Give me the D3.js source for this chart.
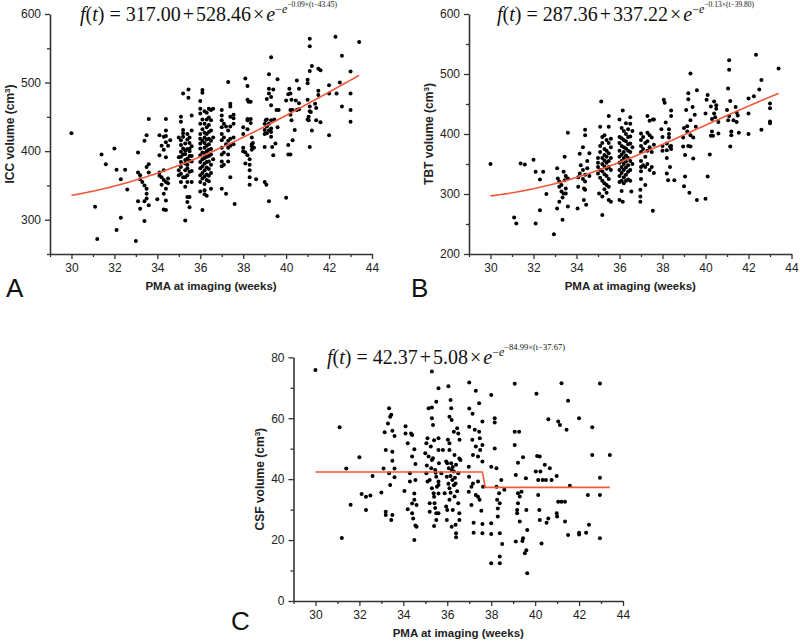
<!DOCTYPE html>
<html><head><meta charset="utf-8">
<script src="https://cdn.jsdelivr.net/npm/d3@7"></script>
<style>body{margin:0;background:#fff}</style>
</head><body>
<svg id="chart" width="800" height="643"></svg>
<script>
// ---------- data ----------
const iccData = [
[30,426],[31.1,319],[31.2,272],[31.4,395],[31.6,381],[32,404],[32.1,373],[32.1,285],[32.3,359],[32.3,303],[32.5,373],[32.6,344],[33,269],[33.1,398],[33.1,369],[33.1,327],[33.2,316],[33.2,365],[33.2,359],[33.3,355],[33.4,415],[33.4,350],[33.4,298],[33.4,327],[33.5,423],[33.5,377],[33.5,345],[33.5,331],[33.6,447],[33.6,381],[33.6,369],[33.6,321],[33.5,338],
[34,330],[34.1,423],[34.1,394],[34.1,364],[34.1,369],[34.2,408],[34.2,351],[34.3,421],[34.3,402],[34.3,372],[34.3,358],[34.3,338],[34.3,315],[34.4,447],[34.4,430],[34.4,422],[34.4,413],[34.4,391],[34.4,355],[34.4,345],[34.4,328],[34.4,314],[34.5,353],[34.5,408],[34.6,416],[34.5,360],[34.2,362],
[35,391],[35,372],[35,420],[35,365],[35.1,443],[35.1,416],[35.1,409],[35.1,399],[35.1,392],[35.1,377],[35.1,367],[35.1,355],[35.1,450],[35.1,384],[35.2,484],[35.2,426],[35.2,421],[35.2,431],[35.2,404],[35.2,395],[35.2,362],[35.3,387],[35.3,411],[35.3,348],[35.3,299],[35.3,382],[35.3,372],[35.3,362],[35.3,401],[35.3,396],[35.4,333],[35.4,326],[35.4,355],[35.4,365],[35.4,375],[35.4,389],[35.4,403],[35.4,417],[35.4,425],[35.4,380],[35.45,490],[35.45,478],[35.5,318],[35.5,403],[35.5,393],[35.5,386],[35.5,412],[35.5,420],[35.5,333],[35.5,370],[35.5,400],[35.6,452],[35.6,393],[35.6,407],[35.6,371],[35.6,355],[35.6,430],[35.6,385],
[36,473],[36,462],[36,455],[36,440],[36,425],[36,418],[36,411],[36,404],[36,394],[36,384],[36,375],[36,365],[36,355],[36,341],[36.1,489],[36.1,485],[36.1,314],[36.1,446],[36.1,432],[36.1,415],[36.1,398],[36.1,388],[36.1,378],[36.1,368],[36.1,360],[36.2,337],[36.2,343],[36.2,458],[36.2,440],[36.2,427],[36.2,420],[36.2,412],[36.2,405],[36.2,397],[36.2,390],[36.2,382],[36.2,372],[36.2,363],[36.2,352],[36.3,456],[36.3,446],[36.3,435],[36.3,425],[36.3,417],[36.3,408],[36.3,400],[36.3,392],[36.3,384],[36.3,376],[36.3,366],[36.3,358],[36.3,335],[36.4,462],[36.4,449],[36.4,438],[36.4,428],[36.4,418],[36.4,410],[36.4,402],[36.4,393],[36.4,385],[36.4,374],[36.4,364],[36.4,356],[36.5,445],[36.5,430],[36.5,415],[36.5,403],[36.5,395],[36.5,380],[36.5,368],[36.5,345],[36.5,460],[36.6,462],[36.6,420],[36.6,388],
[37,460],[37,452],[37,445],[37,435],[37,425],[37,416],[37,405],[37,395],[37,385],[37,378],[37,345],[37.1,440],[37.1,420],[37.1,398],[37.1,380],[37.2,338],[37.2,436],[37.2,410],[37.3,501],[37.3,430],[37.3,415],[37.3,405],[37.3,395],[37.3,385],[37.4,465],[37.4,469],[37.4,450],[37.4,436],[37.4,418],[37.4,408],[37.4,362],[37.55,453],[37.55,448],[37.55,420],[37.55,410],[37.55,440],[37.6,323],
[38,435],[38,425],[38,405],[38,400],[38.1,506],[38.1,382],[38.1,398],[38.2,495],[38.2,475],[38.25,472],[38.2,447],[38.2,445],[38.2,432],[38.2,394],[38.3,388],[38.3,380],[38.3,372],[38.3,351],[38.3,362],[38.35,472],[38.35,447],[38.35,441],[38.4,410],[38.4,402],[38.4,420],[38.4,407],[38.45,412],[38.5,405],[38.6,359],
[39,431],[39,406],[39,355],[39.05,445],[39.08,351],[39,440],[39,425],[39.1,476],[39.1,426],[39.1,436],[39.1,446],[39.2,512],[39.2,491],[39.2,484],[39.2,327],[39.2,440],[39.2,430],[39.3,537],[39.3,479],[39.3,467],[39.3,445],[39.3,433],[39.3,428],[39.3,421],[39.35,406],[39.4,490],[39.4,394],[39.45,446],[39.5,411],[39.55,460],[39.6,505],[39.6,305],[39.65,460],[39.6,435],
[40,332],[40,474],[40.1,483],[40.1,409],[40.1,395],[40.15,491],[40.2,395],[40.2,484],[40.2,460],[40.2,453],[40.25,445],[40.3,416],[40.3,460],[40.4,431],[40.45,474],[40.5,503],[40.5,460],[40.6,461],[40.6,470],[40.6,491],[40.25,475],
[41,504],[41,499],[41.05,450],[41.05,445],[41.1,406],[41.1,564],[41.1,553],[41.1,517],[41.1,465],[41.1,458],[41.15,457],[41.2,524],[41.2,430],[41.35,469],[41.4,463],[41.4,445],[41.5,520],[41.5,488],[41.5,482],[41.6,518],[41.6,442],[41,446],[41,475],
[42,496],[42,484],[42,423],[42.3,567],[42.35,484],[42.5,500],[42.6,539],[42.6,465],[43,516],[43,484],[43,460],[43,443],[43.4,559]
];
const tbtData = [
[30,350],[31.1,261],[31.2,251],[31.4,351],[31.6,349],[32,357],[32.1,337],[32.1,251],[32.3,324],[32.3,273],[32.45,337],[32.6,300],[32.95,233],[33.1,343],[33.1,276],[33.13,326],[33.2,312],[33.2,287],[33.2,321],[33.3,304],[33.35,294],[33.35,257],[33.4,337],[33.4,301],[33.45,362],[33.45,323],[33.5,309],[33.5,301],[33.6,402],[33.6,326],[33.6,279],[33.3,315],[33.5,330],
[34.05,276],[34.08,312],[34.08,328],[34.15,367],[34.15,334],[34.2,348],[34.3,378],[34.3,340],[34.34,290],[34.35,309],[34.4,407],[34.4,398],[34.4,332],[34.4,321],[34.4,307],[34.45,282],[34.5,343],[34.6,368],[34.6,330],[34.5,355],[34.3,325],
[35,334],[35,345],[35,352],[35,360],[35.05,301],[35.1,412],[35.1,380],[35.1,370],[35.1,340],[35.1,327],[35.15,454],[35.2,265],[35.2,296],[35.2,395],[35.2,385],[35.2,360],[35.2,350],[35.2,338],[35.2,322],[35.3,398],[35.3,375],[35.3,365],[35.3,356],[35.3,346],[35.3,333],[35.3,318],[35.3,308],[35.4,315],[35.4,390],[35.4,372],[35.4,362],[35.4,352],[35.4,342],[35.4,330],[35.4,302],[35.5,430],[35.5,412],[35.5,290],[35.5,385],[35.5,368],[35.5,355],[35.5,345],[35.5,325],[35.5,312],[35.6,287],[35.6,392],[35.6,378],[35.6,360],[35.6,340],
[36,424],[36,395],[36,385],[36,372],[36,362],[36,352],[36,340],[36,330],[36,320],[36,290],[36.1,393],[36.1,410],[36.1,380],[36.1,366],[36.1,355],[36.1,345],[36.1,335],[36.1,322],[36.1,305],[36.15,439],[36.15,287],[36.2,405],[36.2,390],[36.2,378],[36.2,370],[36.2,360],[36.2,350],[36.2,340],[36.2,328],[36.2,318],[36.3,418],[36.3,400],[36.3,388],[36.3,376],[36.3,364],[36.3,354],[36.3,344],[36.3,332],[36.3,322],[36.4,408],[36.4,395],[36.4,383],[36.4,372],[36.4,360],[36.4,348],[36.4,337],[36.4,324],[36.5,384],[36.5,428],[36.5,417],[36.5,396],[36.5,370],[36.5,355],[36.5,340],[36.5,322],[36.55,304],[36.6,405],[36.6,378],[36.6,350],
[36.97,296],[36.97,307],[36.97,287],[37,401],[37,390],[37,380],[37,370],[37,355],[37,345],[37,338],[37,325],[37.1,395],[37.1,375],[37.1,348],[37.2,315],[37.2,385],[37.2,362],[37.2,345],[37.3,430],[37.3,402],[37.3,388],[37.3,372],[37.3,350],[37.4,422],[37.4,398],[37.4,378],[37.4,340],[37.5,394],[37.5,370],[37.5,345],[37.55,272],[37.55,424],[37.6,424],[37.6,382],[37.6,335],
[37.95,408],[38,380],[38,372],[38,395],[38.06,457],[38.1,452],[38.15,419],[38.2,384],[38.2,373],[38.2,334],[38.26,323],[38.3,400],[38.3,394],[38.35,379],[38.4,439],[38.4,430],[38.4,380],[38.4,375],[38.3,408],[38.55,323],[38.35,345],[38.2,360],
[38.96,394],[38.96,379],[39,313],[39,410],[39.05,329],[39.05,365],[39.15,413],[39.15,404],[39.2,468],[39.2,458],[39.25,302],[39.3,501],[39.3,423],[39.3,398],[39.3,379],[39.43,359],[39.43,394],[39.6,473],[39.6,290],[39.5,432],[39.55,412],[39.2,380],[39.1,440],[39.4,445],
[40,292],[40,434],[40.05,457],[40.1,329],[40.1,465],[40.2,366],[40.25,397],[40.25,446],[40.3,404],[40.35,397],[40.4,434],[40.4,454],[40.5,442],[40.5,448],[40.6,401],[40.6,420],[40.3,425],[40.45,428],
[41.05,476],[41.05,423],[41.1,523],[41.1,507],[41.15,455],[41.15,379],[41.2,404],[41.2,398],[41.3,423],[41.45,420],[41.45,436],[41.5,431],[41.55,402],[41,440],[41.1,430],[41.4,445],
[42,459],[42,434],[42,400],[42.25,463],[42.35,532],[42.5,474],[42.6,490],[42.6,407],[43,451],[43,443],[43,421],[43,418],[43.4,509]
];
const csfData = [
[30,75.8],[31.1,57],[31.2,20.7],[31.4,43.5],[31.6,31.6],[32,47.2],[32.1,35.1],[32.3,34.2],[32.3,29.9],[32.5,34.6],[32.6,41],[33,35.6],[33.1,43.5],[33.15,55.4],[33.2,49.6],[33.2,29.3],[33.2,28.2],[33.3,58.3],[33.35,63.3],[33.35,41.9],[33.4,38.1],[33.45,26.6],[33.45,61.1],[33.5,55.9],[33.5,49],[33.5,28.2],[33.6,43.5],[33.6,54.2],[33.6,40.6],[33.4,60.5],[33.5,46],
[34.05,36.1],[34.1,57.4],[34.2,51.8],[34.1,55],[34.2,30.1],[34.3,41.9],[34.3,39.2],[34.35,55],[34.4,54.5],[34.4,47.4],[34.4,28.8],[34.45,27.1],[34.5,20],[34.5,33.2],[34.5,35.3],[34.55,45],[34.55,24.8],[34.6,24.4],[34.55,39.7],[34.5,49.8],[34.6,31.5],[34.4,32],
[35.05,41.9],[35.05,51.8],[35.1,39.2],[35.15,63.3],[35.15,47.4],[35.2,32.1],[35.2,29.3],[35.25,50.7],[35.3,75.3],[35.3,63.5],[35.3,60],[35.3,46.3],[35.35,57.8],[35.4,34.2],[35.4,24.6],[35.4,52.8],[35.45,43],[35.5,65.4],[35.5,28.8],[35.5,26.6],[35.6,69.8],[35.6,49.6],[35.6,38.1],[35.6,53.4],[35.6,35.3],[35,48.5],[35.07,44.5],[35.1,53.4],[35.2,39.7],[35.27,43.6],[35.35,46.9],[35.38,35.4],[35.42,32.1],[35.47,42.1],[35.5,40.8],[35.53,37.5],[35.6,39.2],[35.6,28.8],[35.62,45.2],[35.3,37],[35.45,30.5],
[36,29.9],[36,45.2],[36.1,51.8],[36.1,60.5],[36.15,66],[36.05,70.5],[36.2,24.4],[36.3,55.6],[36.4,22.2],[36.4,20.9],[36.45,56.7],[36.5,55],[36.55,28.8],[36.55,26.6],[36.55,46.8],[36.18,63.3],[36.2,59.4],[36.03,52.9],[36.1,49.6],[36.33,47.9],[35.95,45.8],[36.18,45.2],[36.4,44.7],[36.07,43.6],[36.3,42.5],[36.5,41.9],[35.98,40.8],[36.23,39.7],[36.38,38.6],[36.1,37],[35.88,35.4],[36.33,34.3],[36.1,33.2],[36.5,32.1],[35.95,31],[36.25,29.9],[35.98,26.6],[36.38,25],[36.6,46.3],[36.56,52.9],[35.8,49.6],[35.73,41.9],[36.15,41],[36.25,44],[36.35,40.5],[36.2,43],[36.3,38],[36.45,36],[36.05,38.5],[36.15,35.5],
[37,63.2],[37,71.7],[37,57.2],[37.1,37.5],[37.2,25.7],[37.3,69],[37.3,50.7],[37.4,34.2],[37.45,64.9],[37.45,55.6],[37.55,29.6],[37.6,58.9],[37.6,51.2],[37.6,25.3],[37.15,61.5],[37.25,56.2],[37.14,52.9],[37.17,47.9],[37.4,47.4],[36.98,44.1],[37.48,53.4],[37.5,49.6],[37.6,45.8],[37.17,38.6],[37.4,39.2],[36.98,35.9],[37.3,34.8],[37.47,33.2],[37.1,31.5],[37.2,22.4],[37.6,22.2],[36.99,40.8],[37.63,37.5],
[38,67.6],[38,44.1],[38,25.5],[38,22],[38,12.4],[38.16,60],[38.16,58.6],[38.16,50.1],[38.24,43.6],[38.24,37.5],[38.27,33.2],[38.3,30.4],[38.3,27.7],[38.36,35.4],[38.39,32.1],[38.39,22.2],[38.39,14.6],[38.39,12.4],[38.46,39.7],[38.5,18.7],[38.6,36.5],
[39.07,71.3],[39.07,55.6],[39.07,51.2],[39.12,41.4],[39.12,19.5],[39.18,29.9],[39.18,28.8],[39.22,45.4],[39.22,35.4],[39.22,32.1],[39.27,55.6],[39.3,34.3],[39.3,26.1],[39.38,35.9],[39.42,19.7],[39.45,47.2],[39.45,20.6],[39.53,15.7],[39.58,40.3],[39.6,16.7],[39.64,9.1],[39.6,29.9],[39.64,23.3],
[40.03,42.5],[40.06,68],[40.09,47.6],[40.14,34.8],[40.14,39.7],[40.19,29.9],[40.21,26.6],[40.21,47.4],[40.24,42.5],[40.29,18.9],[40.34,39.7],[40.44,44.7],[40.49,39.7],[40.52,25.7],[40.6,59.7],[40.6,27.1],[40.67,43.6],[40.75,39.7],
[40.98,41],[40.98,28.8],[41,27.7],[41.05,58.9],[41.05,32.6],[41.13,57.8],[41.2,32.6],[41.2,71.5],[41.36,32.6],[41.36,26.1],[41.43,56.2],[41.5,65.7],[41.5,21.7],[41.58,37.8],
[42,60],[42,22.4],[42,21.8],[42.32,22.4],[42.4,34.8],[42.45,25],[42.6,57],[42.6,47.9],[42.95,40.5],[42.95,20.6],[42.95,71.4],[42.95,34.8],[43.4,47.9]
];
// fitted curves (parameters printed on the chart)
const iccFit = {a: 317.00, b: 528.46, c: 0.09, t0: 43.45};
const tbtFit = {a: 287.36, b: 337.22, c: 0.13, t0: 39.80};
const csfFitWeeks = [30, 37.6, 37.73, 43.4];
const csfFitVolume = [42.37, 42.37, 37.29, 37.29];
const weekTicks = [30, 32, 34, 36, 38, 40, 42, 44];

// ---------- drawing ----------
const svg = d3.select('#chart');
const sans = 'Arial, "Liberation Sans", Helvetica, sans-serif';
const serif = '"Liberation Serif", "Times New Roman", serif';
const fitColor = '#f05a3a';
const axisColor = '#333';

function gompertz(p) {
  return d3.range(30, 43.4001, 0.1).map(t => [t, p.a + p.b * Math.exp(-Math.exp(-p.c * (t - p.t0)))]);
}

function panel(cfg) {
  const x = d3.scaleLinear().domain([29, 44]).range([cfg.left, cfg.right]);
  const y = d3.scaleLinear().domain(cfg.yDomain).range([cfg.bottom, cfg.top]);
  const g = svg.append('g');

  // minor ticks
  g.append('g').attr('transform', `translate(0,${cfg.bottom})`)
    .call(d3.axisBottom(x).tickValues(d3.range(29, 45, 1).filter(v => v % 2 === 1)).tickSize(3).tickSizeOuter(0).tickFormat(''))
    .call(s => s.select('.domain').remove());
  g.append('g').attr('transform', `translate(${cfg.left},0)`)
    .call(d3.axisLeft(y).tickValues(cfg.yMinor).tickSize(3).tickSizeOuter(0).tickFormat(''))
    .call(s => s.select('.domain').remove());
  // major
  g.append('g').attr('transform', `translate(0,${cfg.bottom})`)
    .call(d3.axisBottom(x).tickValues(weekTicks).tickSize(5).tickSizeOuter(0).tickPadding(4).tickFormat(d3.format('d')));
  g.append('g').attr('transform', `translate(${cfg.left},0)`)
    .call(d3.axisLeft(y).tickValues(cfg.yMajor).tickSize(5).tickSizeOuter(0).tickPadding(4).tickFormat(d3.format('d')));
  g.selectAll('.tick line').attr('stroke', axisColor).attr('stroke-width', 1.3);
  g.selectAll('.domain').attr('stroke', axisColor).attr('stroke-width', 1.6);
  g.selectAll('.tick text').attr('fill', '#222').style('font-family', sans).style('font-size', '12px');

  // points
  g.append('g').selectAll('circle').data(cfg.data).join('circle')
    .attr('cx', d => x(d[0])).attr('cy', d => y(d[1])).attr('r', 2).attr('fill', '#000');

  // fit
  g.append('path').datum(cfg.fit)
    .attr('d', d3.line().x(d => x(d[0])).y(d => y(d[1])))
    .attr('fill', 'none').attr('stroke', fitColor).attr('stroke-width', 1.6);

  // axis titles
  g.append('text').attr('x', (cfg.left + cfg.right) / 2).attr('y', cfg.bottom + 36)
    .attr('text-anchor', 'middle').style('font-family', sans).style('font-weight', 'bold').style('font-size', '11.5px').attr('fill', '#222')
    .text('PMA at imaging (weeks)');
  const yt = g.append('text').attr('transform', `translate(${cfg.yTitleX},${(cfg.top + cfg.bottom) / 2}) rotate(-90)`)
    .attr('text-anchor', 'middle').style('font-family', sans).style('font-weight', 'bold').style('font-size', '12px').attr('fill', '#222');
  yt.append('tspan').text(cfg.yTitle + ' volume (cm');
  yt.append('tspan').attr('dy', -4).style('font-size', '8px').text('3');
  yt.append('tspan').attr('dy', 4).text(')');

  // panel letter
  g.append('text').attr('x', cfg.letterX).attr('y', cfg.letterY).style('font-family', sans).style('font-size', '26px').attr('fill', '#111').text(cfg.letter);

  // formula
  const f = g.append('text').attr('x', cfg.fx).attr('y', cfg.fy).style('font-family', serif).style('font-size', '20px').attr('fill', '#111');
  f.append('tspan').style('font-style', 'italic').text('f');
  f.append('tspan').text('(');
  f.append('tspan').style('font-style', 'italic').text('t');
  f.append('tspan').text(') = ' + cfg.fa);
  f.append('tspan').attr('dx', 2).text('+');
  f.append('tspan').attr('dx', 2).text(cfg.fb);
  f.append('tspan').attr('dx', 2).text('×');
  f.append('tspan').attr('dx', 2).style('font-style', 'italic').text('e');
  f.append('tspan').attr('dy', -8).style('font-size', '12px').text('−');
  f.append('tspan').style('font-style', 'italic').style('font-size', '12px').text('e');
  f.append('tspan').attr('dy', -6).style('font-size', cfg.expSize).text(cfg.fexp);
}

panel({letter: 'A', data: iccData, fit: gompertz(iccFit), yTitle: 'ICC',
  left: 50, right: 372, top: 14, bottom: 254, yDomain: [250, 600],
  yMajor: [300, 400, 500, 600], yMinor: [250, 350, 450, 550], yTitleX: 14,
  letterX: 6, letterY: 297, fx: 80, fy: 21, fa: '317.00', fb: '528.46', fexp: '−0.09×(t−43.45)', expSize: '7.5px'});
panel({letter: 'B', data: tbtData, fit: gompertz(tbtFit), yTitle: 'TBT',
  left: 469, right: 791.5, top: 14, bottom: 254, yDomain: [200, 600],
  yMajor: [200, 300, 400, 500, 600], yMinor: [250, 350, 450, 550], yTitleX: 433,
  letterX: 411, letterY: 297, fx: 497, fy: 21, fa: '287.36', fb: '337.22', fexp: '−0.13×(t−39.80)', expSize: '7.5px'});
panel({letter: 'C', data: csfData, fit: csfFitWeeks.map((w, i) => [w, csfFitVolume[i]]), yTitle: 'CSF',
  left: 293.5, right: 623, top: 357.3, bottom: 601, yDomain: [0, 80],
  yMajor: [0, 20, 40, 60, 80], yMinor: [10, 30, 50, 70], yTitleX: 264,
  letterX: 231, letterY: 630, fx: 327, fy: 364, fa: '42.37', fb: '5.08', fexp: '−84.99×(t−37.67)', expSize: '8.5px'});
</script>
</body></html>
